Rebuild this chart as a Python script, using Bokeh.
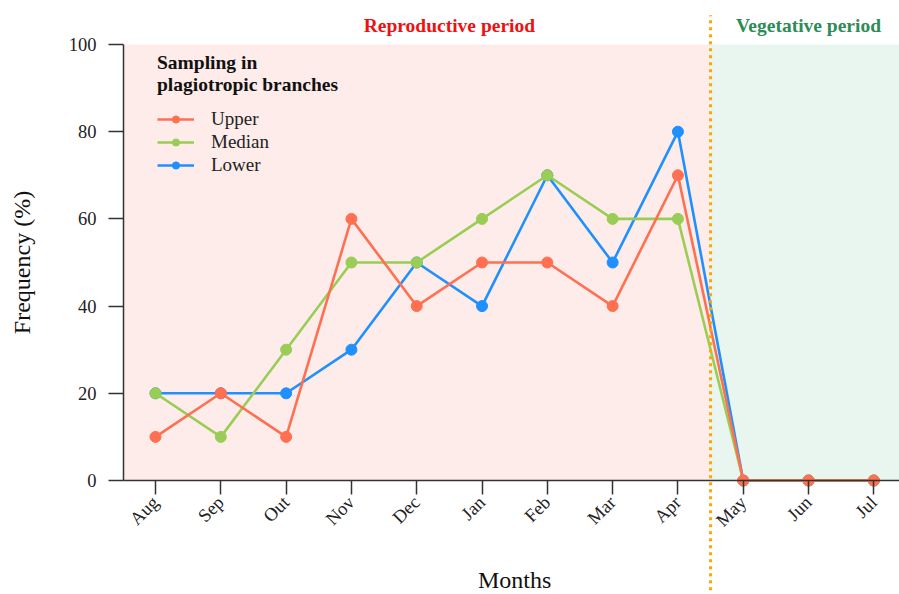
import math
from bokeh.plotting import figure
from bokeh.models import (Range1d, FixedTicker, BoxAnnotation, Arrow, Label,
                          Legend, LegendItem)
from bokeh.embed import file_html
from bokeh.resources import INLINE

months = ["Aug", "Sep", "Out", "Nov", "Dec", "Jan", "Feb", "Mar", "Apr", "May", "Jun", "Jul"]
upper = [10, 20, 10, 60, 40, 50, 50, 40, 70, 0, 0, 0]
median = [20, 10, 30, 50, 50, 60, 70, 60, 60, 0, 0, 0]
lower = [20, 20, 20, 30, 50, 40, 70, 50, 80, 0, 0, 0]
y_ticks = [0, 20, 40, 60, 80, 100]
boundary = 8.5  # between Apr and May
x_left, x_right = -0.49, 11.393   # extent of the shaded plotting area
y_bottom, y_top = 0, 100

FONT = "Liberation Serif"
x = list(range(len(months)))

p = figure(width=899, height=594, output_backend="svg", toolbar_location=None,
           x_range=Range1d(-2.374, 11.393), y_range=Range1d(-26.15, 110.09),
           min_border=0, min_border_left=0, min_border_right=0,
           min_border_top=0, min_border_bottom=0)
p.outline_line_color = None
p.xgrid.visible = False
p.ygrid.visible = False
p.background_fill_color = "white"
p.border_fill_color = "white"

# period backgrounds
p.add_layout(BoxAnnotation(left=x_left, right=boundary, bottom=y_bottom, top=y_top,
                           fill_color="#FDECE9", fill_alpha=1.0,
                           line_color=None, level="underlay"))
p.add_layout(BoxAnnotation(left=boundary, bottom=y_bottom, top=y_top,
                           fill_color="#E9F6EF", fill_alpha=1.0,
                           line_color=None, level="underlay"))

# axes
for ax in (p.xaxis[0], p.yaxis[0]):
    ax.axis_line_color = "#333333"
    ax.axis_line_width = 1.5
    ax.major_tick_line_color = "#333333"
    ax.major_tick_line_width = 1.5
    ax.major_tick_in = 0
    ax.minor_tick_line_color = None
    ax.major_label_text_font = FONT
    ax.major_label_text_font_size = "18.5px"
    ax.major_label_text_color = "#222222"

p.xaxis.fixed_location = 0
p.xaxis.bounds = (x_left, x_right)
p.xaxis.ticker = FixedTicker(ticks=x)
p.xaxis.major_label_overrides = {i: m for i, m in enumerate(months)}
p.xaxis.major_label_orientation = math.pi / 4
p.xaxis.major_tick_out = 14

p.yaxis.fixed_location = x_left
p.yaxis.bounds = (y_bottom, y_top)
p.yaxis.ticker = FixedTicker(ticks=y_ticks)
p.yaxis.major_tick_out = 15
p.yaxis.major_label_standoff = 12

# axis titles
p.add_layout(Label(x=5.5, y=-22.9, text="Months", text_align="center",
                   text_baseline="middle", text_font=FONT,
                   text_font_size="24px", text_color="#111111"))
p.add_layout(Label(x=-2.04, y=50, text="Frequency (%)", angle=math.pi / 2,
                   text_align="center", text_baseline="middle", text_font=FONT,
                   text_font_size="24px", text_color="#111111"))

# series (draw order so that Upper is on top)
series = [("Lower", lower, "#1E90FF"), ("Median", median, "#9ACD55"), ("Upper", upper, "#FF7052")]
items = {}
for name, vals, col in series:
    l = p.line(x, vals, line_color=col, line_width=2.6)
    s = p.scatter(x, vals, size=11, fill_color=col, line_color=col)
    items[name] = LegendItem(label=name, renderers=[l, s])

legend = Legend(items=[items["Upper"], items["Median"], items["Lower"]],
                location=(157, 418), orientation="vertical",
                title="Sampling in\nplagiotropic branches",
                title_text_font=FONT, title_text_font_style="bold",
                title_text_font_size="19.5px", title_text_color="#111111",
                title_standoff=12,
                label_text_font=FONT, label_text_font_size="19px",
                label_text_color="#222222",
                glyph_width=37, glyph_height=18, label_height=18,
                label_standoff=17, spacing=1, padding=0, margin=0,
                background_fill_alpha=0, border_line_color=None)
p.add_layout(legend)

# boundary dotted line
p.add_layout(Arrow(end=None, x_start=boundary, y_start=-30, x_end=boundary, y_end=106.7,
                   line_color="#FFA500", line_width=3, line_dash="3 4"))

# period labels
p.add_layout(Label(x=4.5, y=104.4, text="Reproductive period", text_align="center",
                   text_baseline="middle", text_font=FONT, text_font_style="bold",
                   text_font_size="19.5px", text_color="#EE1111"))
p.add_layout(Label(x=10.0, y=104.4, text="Vegetative period", text_align="center",
                   text_baseline="middle", text_font=FONT, text_font_style="bold",
                   text_font_size="19.5px", text_color="#2E8B57"))

open("out.html", "w").write(file_html(p, INLINE))
